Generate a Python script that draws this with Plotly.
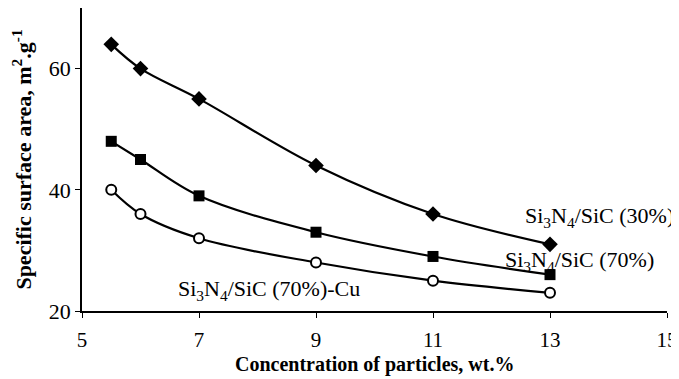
import plotly.graph_objects as go

x = [5.5, 6, 7, 9, 11, 13]
sic30 = [64, 60, 55, 44, 36, 31]
sic70 = [48, 45, 39, 33, 29, 26]
sic70cu = [40, 36, 32, 28, 25, 23]

labels = ["Si<sub>3</sub>N<sub>4</sub>/SiC (30%)",
          "Si<sub>3</sub>N<sub>4</sub>/SiC (70%)",
          "Si<sub>3</sub>N<sub>4</sub>/SiC (70%)-Cu"]
label_x = [13.85, 13.5, 8.2]
label_y = [35.5, 28.3, 23.5]
x_title = "<b>Concentration of particles, wt.%</b>"
y_title = "<b>Specific surface area, m<sup>2</sup>.g<sup>-1</sup></b>"

FONT = "Liberation Serif"
fig = go.Figure()
fig.add_trace(go.Scatter(x=x, y=sic30, mode="lines+markers", line=dict(color="black", width=2.2, shape="spline"),
                         marker=dict(symbol="diamond", size=12, color="black")))
fig.add_trace(go.Scatter(x=x, y=sic70, mode="lines+markers", line=dict(color="black", width=2.2, shape="spline"),
                         marker=dict(symbol="square", size=11, color="black")))
fig.add_trace(go.Scatter(x=x, y=sic70cu, mode="lines+markers", line=dict(color="black", width=2.2, shape="spline"),
                         marker=dict(symbol="circle", size=10, color="white", line=dict(color="black", width=2))))
for t, lx, ly in zip(labels, label_x, label_y):
    fig.add_annotation(x=lx, y=ly, text=t, showarrow=False, font=dict(family=FONT, size=22, color="black"))
fig.add_annotation(xref="paper", yref="paper", x=0.5, y=-0.178, yanchor="middle", text=x_title,
                   showarrow=False, font=dict(family=FONT, size=20, color="black"))

fig.update_layout(
    width=671, height=371, showlegend=False,
    plot_bgcolor="white", paper_bgcolor="white",
    margin=dict(l=74, r=12, t=0, b=68, autoexpand=False),
    font=dict(family=FONT, size=20, color="black"),
)
fig.update_xaxes(range=[5, 15], tickvals=[5, 7, 9, 11, 13, 15], showgrid=False, zeroline=False,
                 showline=True, linecolor="black", linewidth=1.5, ticks="outside", ticklen=5, tickcolor="black",
                 tickfont=dict(family=FONT, size=21), ticklabeloverflow="allow", ticklabelstandoff=4,
                 automargin=False)
fig.update_yaxes(range=[20, 70], tickvals=[20, 40, 60], showgrid=False, zeroline=False,
                 showline=True, linecolor="black", linewidth=1.5, ticks="outside", ticklen=5, tickcolor="black",
                 tickfont=dict(family=FONT, size=22), automargin=False,
                 title=dict(text=y_title, standoff=14, font=dict(family=FONT, size=22)))
fig.write_html("out.html")
